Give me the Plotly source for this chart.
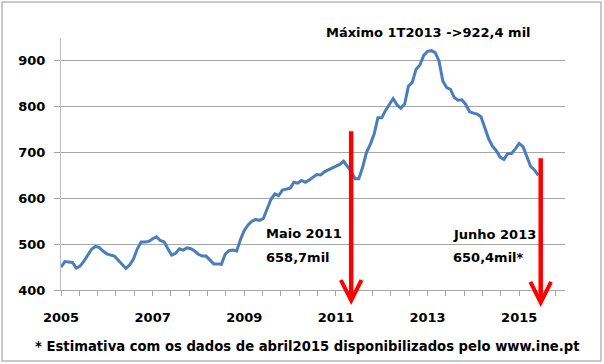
import plotly.graph_objects as go

# Monthly unemployment (thousands), Jan 2005 .. Jun 2015
start_year = 2005
values = [
    450, 462, 461, 460, 448, 452, 463, 476, 489, 495, 493, 485,   # 2005
    479, 476, 474, 465, 455, 447, 455, 468, 490, 505, 505, 506,   # 2006
    512, 516, 508, 505, 490, 476, 480, 490, 487, 492, 490, 485,   # 2007
    478, 474, 474, 465, 457, 457, 456, 478, 486, 487, 485, 510,   # 2008
    530, 542, 550, 554, 552, 556, 575, 598, 610, 606, 618, 620,   # 2009
    622, 635, 633, 639, 635, 640, 646, 652, 651, 658, 662, 666,   # 2010
    670, 674, 681, 670, 658.7, 643, 643, 668, 700, 718, 740, 776, # 2011
    776, 792, 806, 818, 804, 797, 806, 845, 853, 882, 891, 912,   # 2012
    921, 922.4, 918, 900, 856, 842, 838, 820, 814, 815, 805, 789, # 2013
    786, 784, 778, 756, 730, 714, 704, 690, 685, 698, 698, 708,   # 2014
    720, 713, 690, 670, 662, 650.4,                               # 2015
]
x_years = [start_year + i / 12 for i in range(len(values))]

y_ticks = [400, 500, 600, 700, 800, 900]
x_ticks = [2005, 2007, 2009, 2011, 2013, 2015]

title_text = "Máximo 1T2013 ->922,4 mil"
note1 = ["Maio 2011", "658,7mil"]
note2 = ["Junho 2013", "650,4mil*"]
footer = "* Estimativa com os dados de abril2015 disponibilizados pelo www.ine.pt"

arrow_x = [2011 + 4 / 12, 2015.47]
arrow_tail = [750, 691]
arrow_tip = [367, 363]

FONT = "DejaVu Sans"
bold = dict(family=FONT, size=13, color="black", weight="bold")

fig = go.Figure()
fig.add_trace(go.Scatter(
    x=x_years, y=values, mode="lines",
    line=dict(color="#4A7EBB", width=3),
    hoverinfo="skip", showlegend=False,
))

annotations = []
for xa, tail, tip in zip(arrow_x, arrow_tail, arrow_tip):
    annotations.append(dict(
        x=xa, y=tip, ax=xa, ay=tail, xref="x", yref="y", axref="x", ayref="y",
        text="", showarrow=True, arrowhead=5, arrowsize=0.9, arrowwidth=4.5,
        arrowcolor="#FF0000", standoff=0, startstandoff=0,
    ))

annotations.append(dict(x=2013.02, y=1.02, xref="x", yref="paper", text=title_text,
                        showarrow=False, font=bold, xanchor="center", yanchor="middle"))
annotations.append(dict(x=2009.44, y=524, xref="x", yref="y", text=note1[0],
                        showarrow=False, font=bold, xanchor="left", yanchor="middle"))
annotations.append(dict(x=2009.44, y=472, xref="x", yref="y", text=note1[1],
                        showarrow=False, font=bold, xanchor="left", yanchor="middle"))
annotations.append(dict(x=2013.52, y=522, xref="x", yref="y", text=note2[0],
                        showarrow=False, font=bold, xanchor="left", yanchor="middle"))
annotations.append(dict(x=2013.52, y=472, xref="x", yref="y", text=note2[1],
                        showarrow=False, font=bold, xanchor="left", yanchor="middle"))
annotations.append(dict(x=-0.0556, y=-0.226, xref="paper", yref="paper", text=footer,
                        showarrow=False, font=dict(bold, size=13.2),
                        xanchor="left", yanchor="middle"))

fig.update_layout(
    width=604, height=364,
    margin=dict(l=61, r=39, t=38, b=74, autoexpand=False),
    paper_bgcolor="white", plot_bgcolor="white",
    annotations=annotations,
    shapes=[dict(type="rect", xref="paper", yref="paper",
                 x0=-0.117, x1=1.0714, y0=-0.2817, y1=1.1429,
                 line=dict(color="#B8B8B8", width=1.5), fillcolor="rgba(0,0,0,0)")],
    xaxis=dict(
        range=[2005, 2016], tickvals=x_ticks, ticktext=[str(v) for v in x_ticks],
        ticks="outside", ticklen=5, tickcolor="#A6A6A6", tickwidth=1,
        minor=dict(tick0=2005, dtick=0.4, ticks="outside", ticklen=5,
                   tickcolor="#A6A6A6", showgrid=False),
        showline=True, linecolor="#A6A6A6", linewidth=1, showgrid=False,
        zeroline=False, tickfont=bold, ticklabelstandoff=10,
    ),
    yaxis=dict(
        range=[400, 950], tickvals=y_ticks,
        ticks="outside", ticklen=6, tickcolor="#A6A6A6",
        showline=True, linecolor="#BDBDBD", linewidth=1,
        showgrid=True, gridcolor="#A6A6A6", gridwidth=1,
        zeroline=False, tickfont=bold, ticklabelstandoff=6,
    ),
)

fig.write_html("out.html", config={"displayModeBar": False},
               post_script="document.body.style.margin='0';")
